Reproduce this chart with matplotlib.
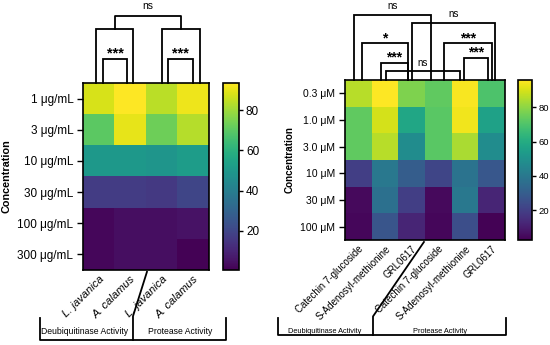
import numpy as np
import matplotlib
matplotlib.use("Agg")
import matplotlib.pyplot as plt
import matplotlib.transforms as mtransforms

plt.rcParams['font.family'] = ['Liberation Sans', 'DejaVu Sans']

# ---------------- data ----------------
left_rows = ["1 μg/mL", "3 μg/mL", "10 μg/mL", "30 μg/mL", "100 μg/mL", "300 μg/mL"]
left_cols = ["L. javanica", "A. calamus", "L. javanica", "A. calamus"]
left_vals = np.array([
    [88, 94, 84, 91],
    [70, 90, 73, 83],
    [50, 50, 49, 52],
    [17, 17, 16, 20],
    [2, 4, 4, 5],
    [2, 4, 4, 1],
])

right_rows = ["0.3 μM", "1.0 μM", "3.0 μM", "10 μM", "30 μM", "100 μM"]
right_cols = ["Catechin 7-glucoside", "S-Adenosyl-methionine", "GRL0617",
              "Catechin 7-glucoside", "S-Adenosyl-methionine", "GRL0617"]
right_vals = np.array([
    [86, 96, 78, 73, 95, 70],
    [73, 90, 58, 72, 94, 56],
    [73, 86, 48, 72, 84, 48],
    [20, 40, 30, 22, 38, 28],
    [5, 37, 20, 5, 40, 12],
    [4, 27, 12, 4, 25, 3],
])
group_labels = ["Deubiquitinase Activity", "Protease Activity"]
cbar_ticks = [20, 40, 60, 80]

# brackets: (x0, x1, top (axes frac), label, text y (axes frac))
left_brackets = [
    (0.15, 0.9, 1.128, "***", 1.16),
    (-0.1, 1.1, 1.289, None, None),
    (2.2, 3.0, 1.128, "***", 1.16),
    (2.0, 3.2, 1.289, None, None),
]
right_brackets = [
    (-0.16, 2.72, 1.406, "ns", 1.43),
    (2.01, 5.12, 1.356, "ns", 1.38),
    (0.14, 1.86, 1.231, "*", 1.26),
    (0.85, 1.86, 1.106, "***", 1.14),
    (1.04, 3.81, 1.056, "ns", 1.075),
    (3.21, 5.0, 1.231, "***", 1.26),
    (3.96, 4.86, 1.138, "***", 1.17),
]

W, H = 550, 345
fig = plt.figure(figsize=(5.5, 3.45), dpi=100)

def px(x0, y0, x1, y1):
    return [x0 / W, 1 - y1 / H, (x1 - x0) / W, (y1 - y0) / H]

axL = fig.add_axes(px(83, 83, 209, 270))
caxL = fig.add_axes(px(223, 83, 239, 270))
axR = fig.add_axes(px(345, 80, 505, 240))
caxR = fig.add_axes(px(518, 80, 532, 240))

def draw(ax, cax, vals, rows, cols, vmin, vmax, yfs, xfs, cfs, lfs, italic):
    im = ax.imshow(vals, cmap='viridis', vmin=vmin, vmax=vmax, aspect='auto')
    ax.set_yticks(range(len(rows)))
    ax.set_yticklabels(rows, fontsize=yfs)
    ax.set_xticks(range(len(cols)))
    ax.set_xticklabels(cols, rotation=45, ha='right', rotation_mode='anchor',
                       fontsize=xfs, style='italic' if italic else 'normal')
    ax.tick_params(axis='x', length=0, pad=3)
    ax.tick_params(axis='y', length=4, width=1, pad=3)
    ax.set_ylabel("Concentration", fontsize=lfs, fontweight='bold', labelpad=4)
    for s in ax.spines.values():
        s.set_linewidth(1.2)
    cb = fig.colorbar(im, cax=cax)
    cb.set_ticks(cbar_ticks)
    cb.ax.tick_params(labelsize=cfs, length=3, width=1, pad=2)
    cb.outline.set_linewidth(1.2)
    ax.set_autoscale_on(False)
    return im

draw(axL, caxL, left_vals, left_rows, left_cols, 0.5, 93.5, 8.5, 8, 8.5, 7.8, True)
draw(axR, caxR, right_vals, right_rows, right_cols, 2.5, 96, 7.5, 7, 6.8, 7.1, False)

def brackets(ax, items, fs):
    tr = mtransforms.blended_transform_factory(ax.transData, ax.transAxes)
    for x0, x1, top, lab, ty in items:
        ax.plot([x0, x0, x1, x1], [1.0, top, top, 1.0], color='black', lw=1.3,
                transform=tr, clip_on=False, solid_joinstyle='miter')
        if lab:
            star = '*' in lab
            ax.text((x0 + x1) / 2, ty, lab, transform=tr, ha='center',
                    va='bottom' if not star else 'center', fontsize=fs + 3 if star else fs,
                    fontweight='bold' if star else 'normal')

brackets(axL, left_brackets, 7.5)
trL = mtransforms.blended_transform_factory(axL.transData, axL.transAxes)
axL.plot([0.5, 0.5, 2.6, 2.6], [1.289, 1.358, 1.358, 1.289], color='black', lw=1.3,
         transform=trL, clip_on=False)
axL.text(1.55, 1.385, "ns", transform=trL, ha='center', va='bottom', fontsize=7.5)

brackets(axR, right_brackets, 7)

def bottom_group(ax, xl, xm, xr, yline, ytop, slant_end, ytext, xtext, fs):
    tr = mtransforms.blended_transform_factory(ax.transData, ax.transAxes)
    ax.plot([xl, xl, xr, xr], [ytop, yline, yline, ytop], color='black', lw=1.3,
            transform=tr, clip_on=False)
    ax.plot([xm, xm, slant_end[0]], [yline, ytop + 0.01, slant_end[1]], color='black',
            lw=1.3, transform=tr, clip_on=False)
    for x, lab in zip(xtext, group_labels):
        ax.text(x, ytext, lab, transform=tr, ha='center', va='center', fontsize=fs)

bottom_group(axL, -1.865, 1.087, 4.04, -0.374, -0.257, (1.53, -0.01), -0.33,
             [-0.44, 2.58], 6.2)
bottom_group(axR, -3.01, 0.55, 5.53, -0.594, -0.4875, (2.46, -0.0125), -0.569,
             [-1.25, 3.06], 5.3)

axL.set_xlim(-0.5, len(left_cols) - 0.5)
axL.set_ylim(len(left_rows) - 0.5, -0.5)
axR.set_xlim(-0.5, len(right_cols) - 0.5)
axR.set_ylim(len(right_rows) - 0.5, -0.5)

fig.savefig("out.png", dpi=100)
